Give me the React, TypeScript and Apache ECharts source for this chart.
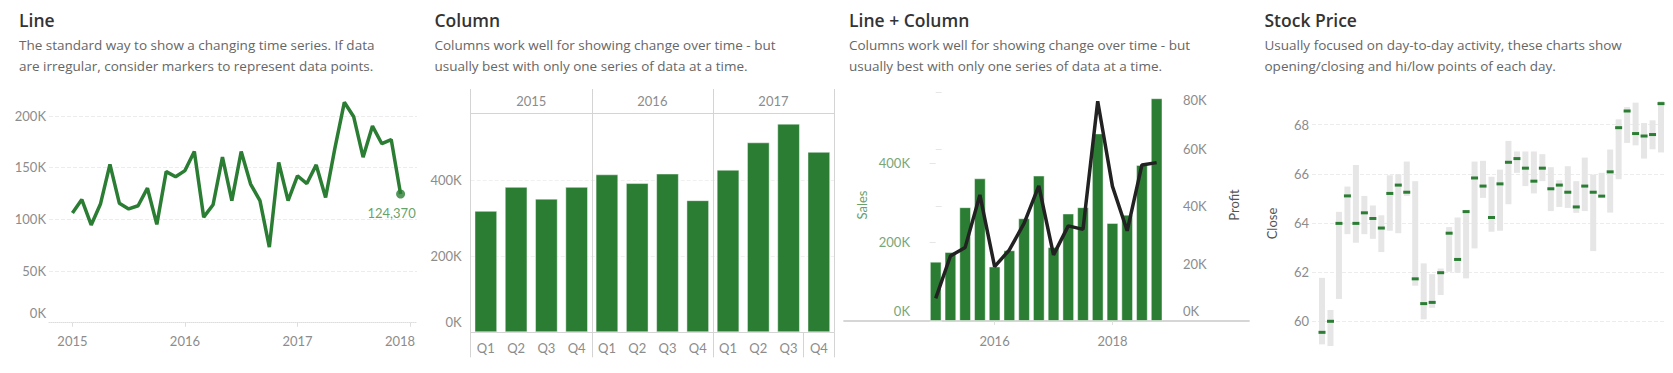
import React, { useEffect, useRef } from 'react';
import * as echarts from 'echarts';

// ---------- DATA ----------
const panelTitles = ['Line', 'Column', 'Line + Column', 'Stock Price'];
const panelSubtitles = [
  ['The standard way to show a changing time series. If data', 'are irregular, consider markers to represent data points.'],
  ['Columns work well for showing change over time - but', 'usually best with only one series of data at a time.'],
  ['Columns work well for showing change over time - but', 'usually best with only one series of data at a time.'],
  ['Usually focused on day-to-day activity, these charts show', 'opening/closing and hi/low points of each day.'],
];

// Panel 1: monthly sales Jan 2015 - Dec 2017
const monthlySales = [
  106000, 119000, 94500, 115000, 153000, 115500, 110000, 113000, 130000, 95000, 146000, 141000,
  147000, 165500, 102000, 114000, 160000, 118000, 165500, 134000, 118000, 73000, 155000, 118000,
  142000, 134500, 152500, 121000, 169000, 213000, 199000, 160000, 190000, 173000, 177000, 124370,
];
const lineYearTicks = [0, 12, 24, 36];
const lineYTicks = [0, 50000, 100000, 150000, 200000];

// Panel 2: quarterly sales
const quarterLabels = ['Q1', 'Q2', 'Q3', 'Q4', 'Q1', 'Q2', 'Q3', 'Q4', 'Q1', 'Q2', 'Q3', 'Q4'];
const columnYears = ['2015', '2016', '2017'];
const quarterSales = [319000, 382000, 351000, 382000, 415000, 392000, 417000, 347000, 427000, 499000, 548000, 474000];
const columnYTicks = [0, 200000, 400000];

// Panel 3: quarterly sales & profit 2015 Q1 - 2018 Q4
const comboSales = [150000, 174600, 288000, 361000, 138000, 179000, 260000, 368000, 187000, 272000, 288000, 474600, 248000, 269000, 395000, 563600];
const comboProfit = [7900, 22700, 25700, 44000, 19000, 24800, 34100, 47200, 23100, 33200, 32000, 76700, 47000, 31500, 54500, 55300];
const comboYearTicks = [4, 12];
const salesTicks = [0, 200000, 400000];
const profitTicks = [0, 20000, 40000, 60000, 80000];

// Panel 4: stock prices
const stockLow = [59.05, 58.98, 60.9, 63.54, 63.19, 63.54, 63.35, 62.81, 63.68, 63.58, 65.1, 61.44, 60.07, 60.54, 61.06, 62.01, 61.97, 61.74, 62.96, 65.02, 63.64, 63.68, 64.76, 66.04, 65.5, 65.2, 65.7, 64.48, 64.65, 64.61, 64.41, 64.48, 62.85, 65.09, 64.42, 65.78, 67.26, 67.16, 66.62, 67.0, 66.87];
const stockHigh = [61.76, 60.45, 64.45, 65.48, 66.36, 65.1, 64.71, 64.31, 65.94, 65.98, 66.5, 65.7, 62.35, 61.91, 62.14, 63.83, 64.22, 64.49, 66.5, 66.53, 65.88, 66.17, 67.34, 66.91, 66.91, 66.91, 66.8, 66.27, 65.74, 66.31, 65.7, 66.66, 65.97, 66.04, 66.99, 68.22, 68.72, 68.9, 68.07, 68.18, 68.96];
const stockClose = [59.54, 59.99, 63.98, 65.1, 63.98, 64.41, 64.18, 63.79, 65.2, 65.54, 65.25, 61.72, 60.71, 60.76, 61.97, 63.58, 62.51, 64.46, 65.83, 65.5, 64.22, 65.59, 66.47, 66.62, 66.23, 65.7, 66.23, 65.39, 65.54, 65.25, 64.65, 65.5, 65.25, 65.09, 66.08, 67.88, 68.56, 67.64, 67.54, 67.6, 68.86];
const stockYTicks = [60, 62, 64, 66, 68];

// ---------- STYLE ----------
const FONT = 'Lato';
const HEAD_FONT = "'Open Sans'";
const GREEN = '#2a7d33';
const LABEL = '#8c8c8c';
const AXISLINE = '#d4d4d4';
const GRIDLINE = '#ececec';
const panelX = [19, 434.5, 849, 1264.5];

const kFmt = (v: number) => `${Math.round(v / 1000)}K`;

const option: any = {
  animation: false,
  textStyle: { fontFamily: FONT },
  graphic: [
    ...panelTitles.map((t, i) => ({
      type: 'text', left: panelX[i], top: 11,
      style: { text: t, font: `600 17.5px ${HEAD_FONT}`, fill: '#333333' },
    })),
    ...panelSubtitles.map((s, i) => ({
      type: 'text', left: panelX[i], top: 34,
      style: { text: s.join('\n'), font: `13.5px ${HEAD_FONT}`, fill: '#666666', lineHeight: 21.5 },
    })),
  ],
  grid: [
    { left: 49, top: 93, width: 368, height: 229.7 },
    { left: 470.7, top: 113, width: 363.3, height: 219.3 },
    { left: 844, top: 89, width: 405, height: 232 },
    { left: 1312, top: 97, width: 353, height: 253 },
  ],
  xAxis: [
    {
      gridIndex: 0, type: 'value', min: -2.5, max: 36.75,
      axisLine: { show: true, lineStyle: { color: '#dddddd', type: 'dotted' } },
      axisTick: { show: true, customValues: lineYearTicks, length: 4, lineStyle: { color: '#dddddd' } },
      axisLabel: {
        customValues: lineYearTicks, margin: 12, color: LABEL, fontSize: 13,
        formatter: (v: number) => (v === 36 ? `{r|${2015 + v / 12}}` : `${2015 + v / 12}`),
        rich: { r: { padding: [0, 20, 0, 0], color: LABEL, fontSize: 13 } },
      },
      splitLine: { show: false },
    },
    {
      gridIndex: 1, type: 'category', data: quarterLabels, position: 'bottom',
      axisLine: { show: true, lineStyle: { color: AXISLINE } },
      axisTick: { show: true, interval: 3, length: 25, lineStyle: { color: AXISLINE } },
      axisLabel: { margin: 9, color: LABEL, fontSize: 13, interval: 0 },
    },
    {
      gridIndex: 1, type: 'category', data: columnYears, position: 'top',
      axisLine: { show: true, lineStyle: { color: AXISLINE } },
      axisTick: { show: true, length: 24, lineStyle: { color: AXISLINE } },
      axisLabel: { margin: 6, color: LABEL, fontSize: 13 },
      splitLine: { show: true, lineStyle: { color: AXISLINE } },
    },
    {
      gridIndex: 2, type: 'value', min: -6.225, max: 21.27, position: 'bottom',
      axisLine: { show: true, lineStyle: { color: AXISLINE, width: 1.5 } },
      axisTick: { show: true, customValues: comboYearTicks, length: 4, lineStyle: { color: '#e0e0e0' } },
      axisLabel: { customValues: comboYearTicks, margin: 13, color: LABEL, fontSize: 13, formatter: (v: number) => `${2015 + v / 4}` },
      splitLine: { show: false },
    },
    {
      gridIndex: 2, type: 'value', min: -6.225, max: 21.27, position: 'top',
      axisLine: { show: true, lineStyle: { color: AXISLINE, width: 1.5 } },
      axisTick: { show: false }, axisLabel: { show: false }, splitLine: { show: false },
    },
    {
      gridIndex: 3, type: 'value', min: -1.18, max: 40.47, show: false,
    },
  ],
  yAxis: [
    {
      gridIndex: 0, type: 'value', min: 0, max: 222000, interval: 50000,
      axisLine: { show: false }, axisTick: { show: false },
      axisLabel: {
        customValues: lineYTicks, margin: 3, color: LABEL, fontSize: 13,
        formatter: (v: number) => (v === 0 ? `{low|${kFmt(v)}}` : kFmt(v)),
        rich: { low: { padding: [0, 0, 20, 0], color: LABEL, fontSize: 13 } },
      },
      splitLine: { show: true, showMinLine: false, showMaxLine: false, lineStyle: { color: GRIDLINE, type: 'dashed' } },
    },
    {
      gridIndex: 1, type: 'value', min: 0, max: 576000, interval: 200000,
      axisLine: { show: true, lineStyle: { color: AXISLINE } }, axisTick: { show: false },
      axisLabel: {
        customValues: columnYTicks, margin: 9, color: LABEL, fontSize: 13,
        formatter: (v: number) => (v === 0 ? `{low|${kFmt(v)}}` : kFmt(v)),
        rich: { low: { padding: [0, 0, 20, 0], color: LABEL, fontSize: 13 } },
      },
      splitLine: { show: true, showMinLine: false, showMaxLine: false, lineStyle: { color: '#f0f0f0', type: 'dashed' } },
    },
    {
      gridIndex: 2, type: 'value', min: 0, max: 587000, position: 'left', offset: -74,
      name: 'Sales', nameLocation: 'middle', nameGap: 50, nameRotate: 90,
      nameTextStyle: { color: '#6a9f6a', fontSize: 13 },
      axisLine: { show: false },
      axisTick: { show: true, customValues: salesTicks, length: 6, lineStyle: { color: '#e6e6e6' } },
      axisLabel: {
        customValues: salesTicks, margin: 8, color: '#78a678', fontSize: 13,
        formatter: (v: number) => (v === 0 ? `{low|${kFmt(v)}}` : kFmt(v)),
        rich: { low: { padding: [0, 0, 20, 0], color: '#78a678', fontSize: 13 } },
      },
      splitLine: { show: false },
    },
    {
      gridIndex: 2, type: 'value', min: 0, max: 81000, position: 'right', offset: -74,
      name: 'Profit', nameLocation: 'middle', nameGap: 52, nameRotate: 90,
      nameTextStyle: { color: '#555555', fontSize: 13 },
      axisLine: { show: false },
      axisTick: { show: true, customValues: profitTicks, length: 6, lineStyle: { color: '#e6e6e6' } },
      axisLabel: {
        customValues: profitTicks, margin: 8, color: LABEL, fontSize: 13,
        formatter: (v: number) => (v === 0 ? `{low|${kFmt(v)}}` : v === 80000 ? `{high|${kFmt(v)}}` : kFmt(v)),
        rich: {
          low: { padding: [0, 0, 20, 0], color: LABEL, fontSize: 13 },
          high: { padding: [16, 0, 0, 0], color: LABEL, fontSize: 13 },
        },
      },
      splitLine: { show: false },
    },
    {
      gridIndex: 3, type: 'value', min: 58.82, max: 69.13,
      name: 'Close', nameLocation: 'middle', nameGap: 34, nameRotate: 90,
      nameTextStyle: { color: '#555555', fontSize: 13 },
      axisLine: { show: false }, axisTick: { show: false },
      axisLabel: { customValues: stockYTicks, margin: 3, color: LABEL, fontSize: 13 },
      splitLine: { show: true, showMinLine: false, showMaxLine: false, lineStyle: { color: GRIDLINE, type: 'dashed' } },
    },
  ],
  series: [
    {
      type: 'line', xAxisIndex: 0, yAxisIndex: 0,
      data: monthlySales.map((v, i) => [i, v]),
      showSymbol: false, lineStyle: { color: GREEN, width: 3.5 }, itemStyle: { color: GREEN },
    },
    {
      type: 'scatter', xAxisIndex: 0, yAxisIndex: 0,
      data: [[monthlySales.length - 1, monthlySales[monthlySales.length - 1]]],
      symbolSize: 9, itemStyle: { color: GREEN },
      label: {
        show: true, position: 'bottom', distance: 8, offset: [-9, 0], color: '#3b8a3f', fontSize: 13,
        formatter: (p: any) => Number(p.value[1]).toLocaleString('en-US'),
      },
    },
    {
      type: 'bar', xAxisIndex: 1, yAxisIndex: 1, data: quarterSales,
      barCategoryGap: '25%',
      itemStyle: { color: GREEN, borderColor: 'rgba(255,255,255,0.45)', borderWidth: 1 },
    },
    {
      type: 'bar', xAxisIndex: 3, yAxisIndex: 2,
      data: comboSales.map((v, i) => [i, v]), barWidth: 11.7,
      itemStyle: { color: GREEN, borderColor: 'rgba(255,255,255,0.45)', borderWidth: 1 },
    },
    {
      type: 'line', xAxisIndex: 3, yAxisIndex: 3,
      data: comboProfit.map((v, i) => [i, v]),
      showSymbol: false, lineStyle: { color: '#222222', width: 3.5 }, itemStyle: { color: '#222222' },
    },
    {
      type: 'custom', xAxisIndex: 5, yAxisIndex: 4,
      data: stockLow.map((lo, i) => [i, lo, stockHigh[i], stockClose[i]]),
      encode: { x: 0, y: [1, 2, 3] },
      renderItem: (params: any, api: any) => {
        const x = api.value(0);
        const pLo = api.coord([x, api.value(1)]);
        const pHi = api.coord([x, api.value(2)]);
        const pC = api.coord([x, api.value(3)]);
        return {
          type: 'group',
          children: [
            { type: 'rect', shape: { x: pHi[0] - 3, y: pHi[1], width: 6, height: pLo[1] - pHi[1] }, style: { fill: '#e6e6e6' } },
            { type: 'rect', shape: { x: pC[0] - 3.5, y: pC[1] - 1.5, width: 7, height: 3 }, style: { fill: GREEN } },
          ],
        };
      },
    },
  ],
};

export default function App() {
  const ref = useRef<HTMLDivElement>(null);
  useEffect(() => {
    const chart = echarts.init(ref.current!, null, { renderer: 'svg', width: 1673, height: 373 });
    chart.setOption(option);
    return () => chart.dispose();
  }, []);
  return (
    <div
      ref={ref}
      style={{ position: 'fixed', left: 0, top: 0, width: 1673, height: 373, background: '#ffffff' }}
    />
  );
}
